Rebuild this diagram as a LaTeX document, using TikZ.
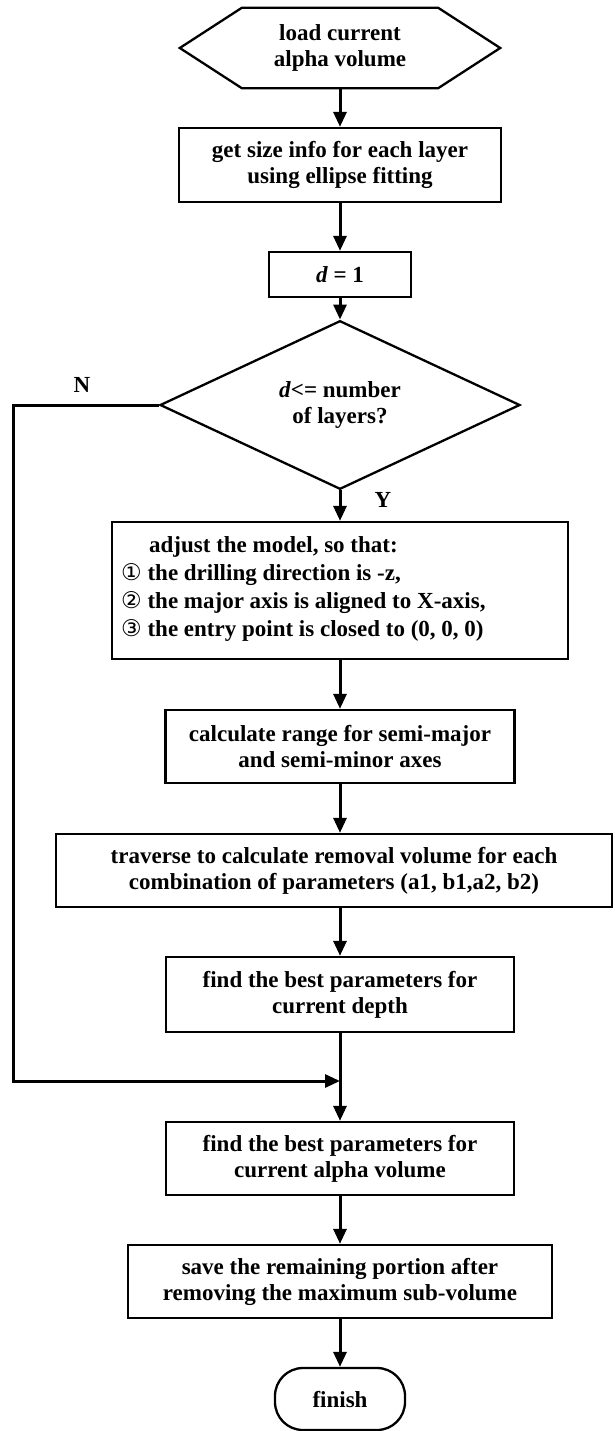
\documentclass[tikz,border=0pt]{standalone}
\usepackage{fontspec}
\setmainfont{Liberation Serif}
\newfontfamily\circfont{DejaVu Sans}
\usetikzlibrary{arrows.meta,shapes.geometric}
\newcommand\mytightls{\lineskiplimit=-20pt\relax}
\begin{document}
\begin{tikzpicture}[x=1pt,y=-1pt,
  every node/.style={font=\fontsize{23}{26}\selectfont\bfseries, inner sep=0pt},
  proc/.style={draw, line width=2.3pt, align=center},
  arr/.style={line width=3pt, -{Triangle[length=15pt,width=13pt]}}
]
\useasboundingbox (0,0) rectangle (614,1431);
% start hexagon
\node[minimum width=320pt, minimum height=80pt, align=center] (hex) at (340,48) {load current\\alpha volume};
\draw[line width=2.3pt] (hex.west) -- ([xshift=62pt]hex.north west) -- ([xshift=-62pt]hex.north east) -- (hex.east) -- ([xshift=-62pt]hex.south east) -- ([xshift=62pt]hex.south west) -- cycle;
% process boxes
\node[proc, minimum width=322pt, minimum height=74pt] (size) at (340,165) {get size info for each layer\\using ellipse fitting};
\node[proc, minimum width=142pt, minimum height=45pt] (d1) at (340,274.5) {\textit{d} = 1};
\node[draw, diamond, line width=2.3pt, minimum width=360pt, minimum height=150pt, align=center] (dia) at (340,405) {\textit{d}<= number\\of layers?};
\node[proc, minimum width=456pt, minimum height=137pt] (adj) at (340,590.5) {};
\node[anchor=west, align=left, font=\fontsize{23}{28}\selectfont\bfseries\mytightls] (adjtxt) at (121,589) {\hspace*{28pt}adjust the model, so that:\\{\circfont\mdseries ①} the drilling direction is -z,\\{\circfont\mdseries ②} the major axis is aligned to X-axis,\\{\circfont\mdseries ③} the entry point is closed to (0, 0, 0)};
\node[proc, minimum width=349pt, minimum height=73pt] (calc) at (340,746.5) {calculate range for semi-major\\and semi-minor axes};
\node[proc, minimum width=556pt, minimum height=73pt] (trav) at (334,870.5) {traverse to calculate removal volume for each\\combination of parameters (a1, b1,a2, b2)};
\node[proc, minimum width=348pt, minimum height=75pt] (depth) at (340,994.5) {find the best parameters for\\current depth};
\node[proc, minimum width=348pt, minimum height=73pt] (alpha) at (340,1158.5) {find the best parameters for\\current alpha volume};
\node[proc, minimum width=424pt, minimum height=73pt] (save) at (340,1281.5) {save the remaining portion after\\removing the maximum sub-volume};
\node[proc, rounded corners=28pt, minimum width=130pt, minimum height=62pt] (fin) at (340,1399) {finish};
% labels
\node (nlab) at (82,385) {N};
\node (ylab) at (383,500) {Y};
% connectors
\draw[arr] (hex.south) -- (size.north);
\draw[arr] (size.south) -- (d1.north);
\draw[arr] (d1.south) -- (dia.north);
\draw[arr] (dia.south) -- (adj.north);
\draw[arr] (adj.south) -- (calc.north);
\draw[arr] (calc.south) -- (calc.south |- trav.north);
\draw[arr] (calc.south |- trav.south) -- (depth.north);
\draw[arr] (depth.south) -- (alpha.north);
\draw[arr] (alpha.south) -- (save.north);
\draw[arr] (save.south) -- (fin.north);
\coordinate (nl) at (13,405);
\coordinate (nj) at (340,1081);
\draw[arr] (dia.west) -- (nl) |- (nj);
\end{tikzpicture}
\end{document}
